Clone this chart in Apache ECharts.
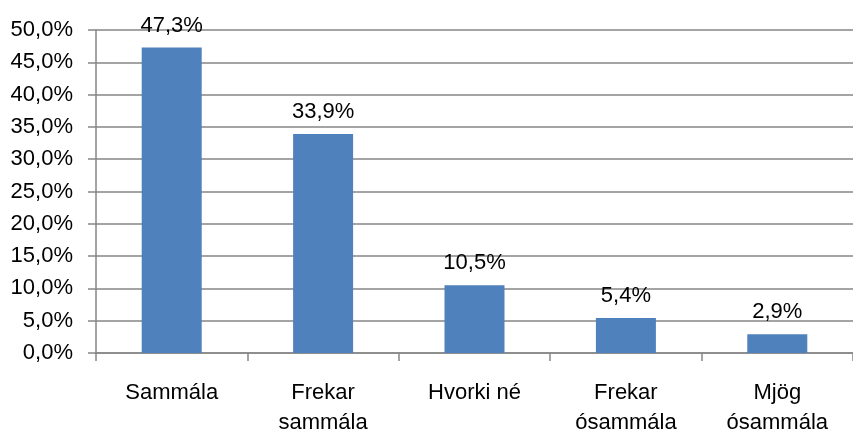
<!DOCTYPE html>
<html><head><meta charset="utf-8">
<script src="https://cdn.jsdelivr.net/npm/echarts@6/dist/echarts.min.js"></script>
<style>html,body{margin:0;padding:0;background:#fff}#c{width:853px;height:433px}</style>
</head><body><div id="c"></div>
<script>
const categories = ['Sammála', 'Frekar\nsammála', 'Hvorki né', 'Frekar\nósammála', 'Mjög\nósammála'];
const values = [47.3, 33.9, 10.5, 5.4, 2.9];
const fmt = v => v.toFixed(1).replace('.', ',') + '%';
const FONT = 'Liberation Sans';
const chart = echarts.init(document.getElementById('c'));
chart.setOption({
  animation: false,
  grid: {left: 96, right: 0, top: 30, bottom: 80, containLabel: false, outerBoundsMode: 'none'},
  xAxis: {
    type: 'category', data: categories,
    axisLine: {lineStyle: {color: '#868686', width: 1.5}},
    axisTick: {show: true, length: 8, lineStyle: {color: '#868686', width: 1.5}},
    axisLabel: {color: '#000', fontFamily: FONT, fontSize: 22, margin: 25, lineHeight: 30}
  },
  yAxis: {
    type: 'value', min: 0, max: 50, interval: 5,
    axisLine: {show: true, lineStyle: {color: '#868686', width: 1.5}},
    axisTick: {show: true, length: 8, lineStyle: {color: '#868686', width: 1.5}},
    splitLine: {lineStyle: {color: '#868686', width: 1.5}},
    axisLabel: {color: '#000', fontFamily: FONT, fontSize: 22, margin: 23, formatter: v => fmt(v)}
  },
  series: [{
    type: 'bar', data: values, barWidth: 60,
    itemStyle: {color: '#4F81BD'},
    label: {show: true, position: 'top', distance: 11, color: '#000', fontFamily: FONT, fontSize: 22, formatter: p => fmt(p.value)}
  }]
});
</script></body></html>
